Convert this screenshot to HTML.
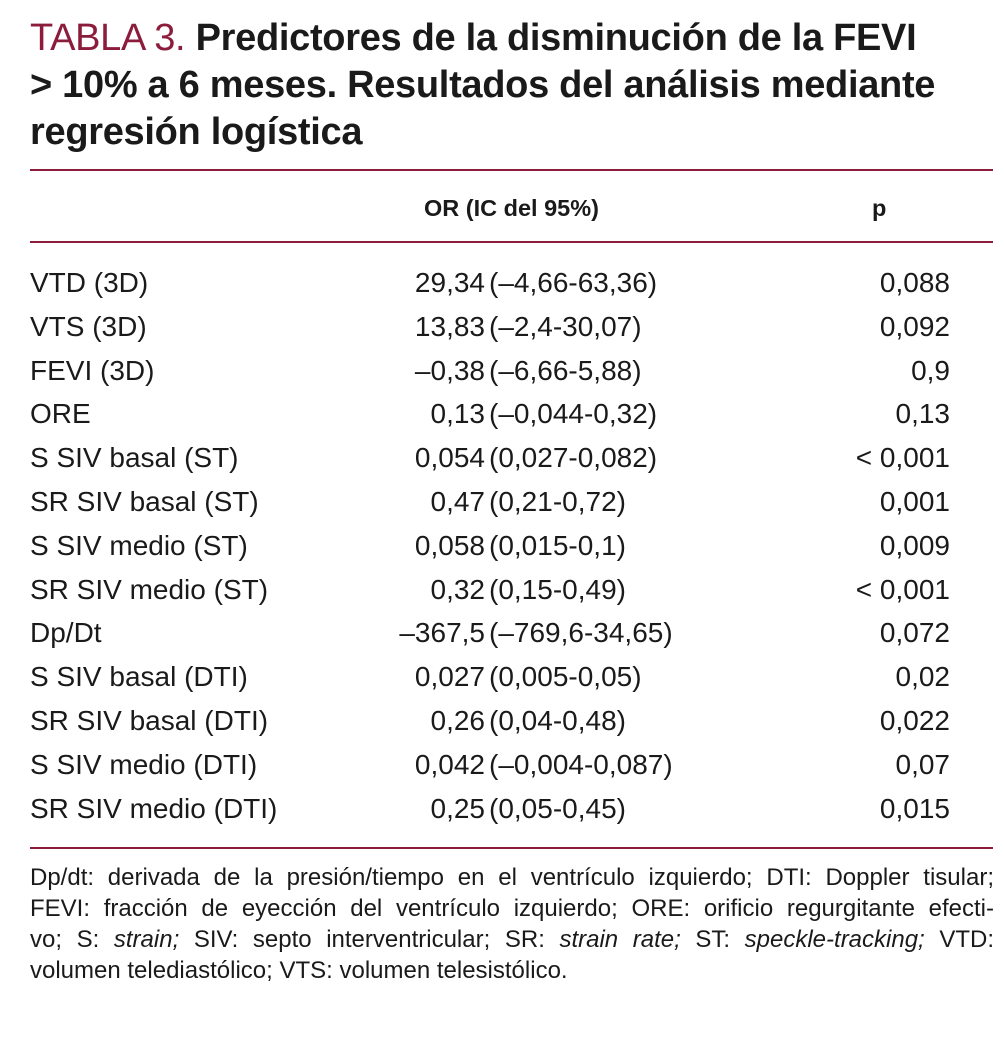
<!DOCTYPE html>
<html><head><meta charset="utf-8">
<style>
body{margin:0;width:1004px;height:1045px;background:#fff;position:relative;overflow:hidden;
font-family:"Liberation Sans Narrow","Liberation Sans",sans-serif;color:#1a1a1a}
.t{position:absolute;left:30px;font-size:38px;font-weight:bold;line-height:47px;top:15px;letter-spacing:-0.3px}
.t .lab{color:#8c1c3c;font-weight:normal}
.hr{position:absolute;left:30px;width:963px;height:2px;background:#8c1c3c}
.row{position:absolute;left:0;width:1004px;height:44px;font-size:28px;line-height:44px}
.row span{position:absolute;white-space:nowrap}
.n{left:30px}
.v{right:519px;text-align:right}
.c{left:489px}
.p{right:54px;text-align:right}
.h{position:absolute;font-size:23.5px;font-weight:bold;top:195px}
.fl{position:absolute;left:30px;width:964px;font-size:24px;line-height:31px;text-align:justify;text-align-last:justify;white-space:nowrap}
.fl.last{text-align-last:left}
</style></head><body>
<div class="t"><span class="lab">TABLA 3.</span> Predictores de la disminución de la FEVI<br>&gt; 10% a 6 meses. Resultados del análisis mediante<br>regresión logística</div>
<div class="hr" style="top:169px"></div>
<div class="h" style="left:424px">OR (IC del 95%)</div>
<div class="h" style="left:872px">p</div>
<div class="hr" style="top:241px"></div>
<div id="rows"></div>
<div class="hr" style="top:847px"></div>
<div>
<div class="fl" style="top:862px">Dp/dt: derivada de la presión/tiempo en el ventrículo izquierdo; DTI: Doppler tisular;</div>
<div class="fl" style="top:893px">FEVI: fracción de eyección del ventrículo izquierdo; ORE: orificio regurgitante efecti-</div>
<div class="fl" style="top:924px">vo; S: <i>strain;</i> SIV: septo interventricular; SR: <i>strain rate;</i> ST: <i>speckle-tracking;</i> VTD:</div>
<div class="fl last" style="top:955px">volumen telediastólico; VTS: volumen telesistólico.</div>
</div>
<script>
const names=["VTD (3D)","VTS (3D)","FEVI (3D)","ORE","S SIV basal (ST)","SR SIV basal (ST)","S SIV medio (ST)","SR SIV medio (ST)","Dp/Dt","S SIV basal (DTI)","SR SIV basal (DTI)","S SIV medio (DTI)","SR SIV medio (DTI)"];
const ors=["29,34","13,83","–0,38","0,13","0,054","0,47","0,058","0,32","–367,5","0,027","0,26","0,042","0,25"];
const cis=["(–4,66-63,36)","(–2,4-30,07)","(–6,66-5,88)","(–0,044-0,32)","(0,027-0,082)","(0,21-0,72)","(0,015-0,1)","(0,15-0,49)","(–769,6-34,65)","(0,005-0,05)","(0,04-0,48)","(–0,004-0,087)","(0,05-0,45)"];
const ps=["0,088","0,092","0,9","0,13","&lt; 0,001","0,001","0,009","&lt; 0,001","0,072","0,02","0,022","0,07","0,015"];
const host=document.getElementById('rows');
names.forEach((nm,i)=>{
  const r=document.createElement('div');
  r.className='row';
  r.style.top=(261+i*43.8)+'px';
  
  
  r.innerHTML='<span class="n">'+nm+'</span><span class="v">'+ors[i]+'</span><span class="c">'+cis[i]+'</span><span class="p">'+ps[i]+'</span>';
  host.appendChild(r);
});
</script>
</body></html>
